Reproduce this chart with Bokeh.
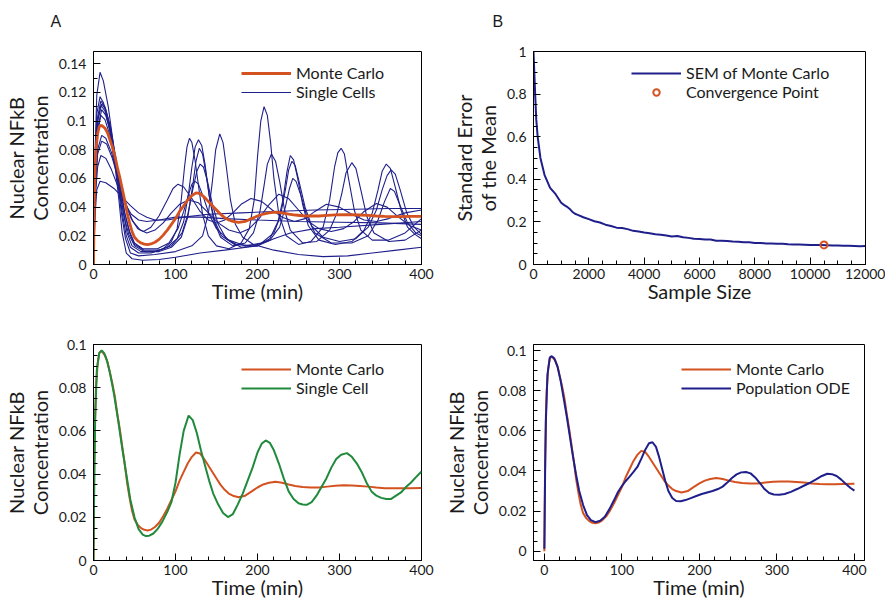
from bokeh.plotting import figure
from bokeh.layouts import column, row
from bokeh.models import FixedTicker, Legend, LegendItem, Range1d
from bokeh.embed import file_html
from bokeh.resources import INLINE
import numpy as np

# ---------------- data ----------------
# Monte Carlo mean (shared by panels A, C, D)
T_MC = [0, 1, 2, 3, 5, 7, 9, 11, 14, 17, 20, 23, 26, 29, 32, 35, 38, 41, 44, 47, 50, 54, 58, 62, 66, 70,
        75, 80, 85, 90, 95, 100, 105, 110, 115, 120, 125, 130, 135, 140, 145, 150, 155, 160, 165, 170,
        177, 185, 192, 200, 207, 214, 222, 230, 238, 246, 255, 265, 275, 285, 295, 305, 315, 325, 335,
        345, 355, 365, 375, 385, 400]
V_MC = [0.0, 0.045, 0.068, 0.080, 0.091, 0.096, 0.097, 0.0965, 0.095, 0.092, 0.087, 0.082, 0.076, 0.068,
        0.061, 0.053, 0.045, 0.036, 0.029, 0.023, 0.019, 0.0165, 0.015, 0.0142, 0.0139, 0.0143,
        0.0155, 0.0175, 0.0205, 0.024, 0.028, 0.032, 0.037, 0.041, 0.045, 0.048, 0.050, 0.0495, 0.047,
        0.044, 0.041, 0.038, 0.035, 0.0327, 0.031, 0.030, 0.0293, 0.030, 0.0318, 0.0338, 0.0352, 0.036,
        0.0365, 0.036, 0.0352, 0.0345, 0.034, 0.0338, 0.0338, 0.0342, 0.0346, 0.0348, 0.0347, 0.0345,
        0.0342, 0.0338, 0.0335, 0.0334, 0.0334, 0.0335, 0.0336]

# Single cells (panel A): each a list of (time, value)
CELL_1 = [(0, 0), (2, 0.07), (4, 0.105), (8, 0.117), (12, 0.113), (18, 0.100), (25, 0.078), (30, 0.058),
          (35, 0.036), (40, 0.020), (45, 0.012), (55, 0.008), (70, 0.008), (85, 0.011), (95, 0.016),
          (102, 0.025), (107, 0.045), (111, 0.068), (114, 0.082), (117, 0.088), (120, 0.085), (124, 0.072),
          (128, 0.055), (133, 0.035), (140, 0.020), (150, 0.013), (165, 0.011), (180, 0.015), (190, 0.025),
          (196, 0.045), (200, 0.075), (204, 0.100), (208, 0.110), (212, 0.104), (216, 0.085), (220, 0.060),
          (226, 0.035), (235, 0.020), (250, 0.014), (265, 0.016), (280, 0.026), (288, 0.045), (294, 0.068),
          (298, 0.078), (302, 0.081), (306, 0.077), (311, 0.060), (318, 0.038), (326, 0.024), (340, 0.017),
          (360, 0.017), (380, 0.022), (400, 0.032)]
CELL_2 = [(0, 0), (2, 0.065), (4, 0.10), (9, 0.114), (14, 0.110), (20, 0.097), (26, 0.077), (31, 0.057),
          (36, 0.038), (41, 0.022), (47, 0.013), (58, 0.009), (75, 0.009), (90, 0.012), (102, 0.018),
          (110, 0.030), (116, 0.050), (120, 0.068), (124, 0.082), (128, 0.087), (132, 0.083), (136, 0.070),
          (141, 0.048), (147, 0.030), (155, 0.019), (170, 0.013), (185, 0.015), (195, 0.022), (203, 0.037),
          (208, 0.055), (212, 0.070), (217, 0.077), (222, 0.072), (227, 0.058), (233, 0.038), (240, 0.024),
          (255, 0.015), (272, 0.016), (288, 0.024), (297, 0.036), (303, 0.050), (308, 0.064), (315, 0.071),
          (320, 0.067), (326, 0.052), (333, 0.034), (342, 0.022), (360, 0.016), (380, 0.017), (400, 0.024)]
CELL_3 = [(0, 0), (2, 0.06), (5, 0.10), (10, 0.112), (15, 0.108), (21, 0.095), (27, 0.075), (33, 0.054),
          (38, 0.036), (44, 0.022), (50, 0.014), (62, 0.010), (80, 0.010), (95, 0.013), (108, 0.022),
          (115, 0.035), (121, 0.052), (126, 0.065), (130, 0.070), (134, 0.068), (139, 0.058), (145, 0.042),
          (152, 0.028), (162, 0.018), (180, 0.012), (200, 0.013), (215, 0.018), (225, 0.030), (231, 0.045),
          (236, 0.065), (240, 0.076), (244, 0.073), (249, 0.060), (255, 0.042), (262, 0.027), (275, 0.017),
          (295, 0.014), (315, 0.016), (330, 0.024), (340, 0.036), (347, 0.052), (352, 0.065), (357, 0.070),
          (362, 0.067), (368, 0.054), (375, 0.038), (383, 0.026), (392, 0.021), (400, 0.018)]
CELL_4 = [(0, 0), (2, 0.06), (5, 0.095), (10, 0.108), (15, 0.104), (21, 0.092), (27, 0.073), (33, 0.053),
          (38, 0.036), (44, 0.023), (50, 0.015), (60, 0.011), (78, 0.011), (92, 0.015), (103, 0.025),
          (110, 0.037), (116, 0.049), (120, 0.056), (124, 0.058), (128, 0.056), (134, 0.047), (141, 0.035),
          (150, 0.025), (165, 0.017), (185, 0.013), (205, 0.015), (220, 0.022), (228, 0.034), (234, 0.052),
          (238, 0.066), (242, 0.072), (246, 0.069), (251, 0.057), (258, 0.040), (266, 0.027), (280, 0.019),
          (300, 0.016), (320, 0.018), (335, 0.026), (345, 0.038), (352, 0.052), (358, 0.062), (363, 0.066),
          (368, 0.063), (374, 0.052), (382, 0.036), (391, 0.026), (400, 0.021)]
CELL_5 = [(0, 0), (2, 0.08), (4, 0.118), (8, 0.134), (12, 0.128), (18, 0.110), (24, 0.085), (29, 0.060),
          (34, 0.036), (39, 0.018), (45, 0.008), (55, 0.006), (75, 0.007), (100, 0.009), (120, 0.013),
          (133, 0.020), (140, 0.035), (145, 0.058), (149, 0.080), (154, 0.091), (158, 0.085), (162, 0.068),
          (167, 0.045), (173, 0.028), (182, 0.019), (195, 0.014), (220, 0.010), (250, 0.007), (280, 0.0055),
          (310, 0.006), (340, 0.008), (370, 0.010), (400, 0.012)]
CELL_6 = [(0, 0), (2, 0.05), (5, 0.08), (10, 0.090), (15, 0.088), (22, 0.078), (30, 0.061), (38, 0.045),
          (46, 0.032), (54, 0.025), (61, 0.023), (70, 0.026), (80, 0.034), (90, 0.045), (97, 0.053),
          (103, 0.056), (110, 0.054), (120, 0.046), (130, 0.037), (140, 0.031), (150, 0.029), (160, 0.031),
          (170, 0.036), (180, 0.042), (192, 0.046), (205, 0.044), (218, 0.038), (230, 0.033), (245, 0.030),
          (258, 0.032), (270, 0.037), (284, 0.042), (300, 0.040), (315, 0.035), (330, 0.031), (345, 0.030),
          (360, 0.032), (380, 0.036), (400, 0.038)]
CELL_7 = [(0, 0), (2, 0.05), (5, 0.077), (10, 0.086), (16, 0.084), (23, 0.074), (31, 0.058), (40, 0.041),
          (48, 0.030), (57, 0.024), (65, 0.022), (75, 0.024), (85, 0.029), (95, 0.036), (105, 0.042),
          (116, 0.045), (128, 0.043), (140, 0.036), (152, 0.029), (165, 0.024), (178, 0.022), (190, 0.025),
          (202, 0.032), (213, 0.041), (226, 0.049), (238, 0.046), (250, 0.038), (262, 0.030), (275, 0.025),
          (290, 0.023), (305, 0.025), (318, 0.030), (330, 0.037), (345, 0.0425), (358, 0.040), (372, 0.033),
          (386, 0.027), (400, 0.024)]
CELL_8 = [(0, 0), (2, 0.035), (4, 0.052), (8, 0.058), (15, 0.057), (25, 0.053), (35, 0.047), (45, 0.041),
          (55, 0.036), (65, 0.033), (75, 0.031), (90, 0.031), (110, 0.033), (140, 0.035), (180, 0.036),
          (220, 0.037), (270, 0.038), (320, 0.0385), (360, 0.039), (400, 0.039)]
CELL_9 = [(0, 0), (2, 0.045), (5, 0.068), (9, 0.076), (15, 0.074), (22, 0.066), (30, 0.054), (38, 0.043),
          (46, 0.035), (55, 0.031), (65, 0.030), (80, 0.031), (100, 0.033), (130, 0.033), (160, 0.032),
          (200, 0.031), (250, 0.030), (300, 0.0295), (350, 0.029), (400, 0.028)]
CELL_10 = [(0, 0), (2, 0.065), (5, 0.100), (9, 0.111), (14, 0.107), (20, 0.093), (26, 0.070), (31, 0.045),
           (35, 0.022), (40, 0.008), (47, 0.004), (60, 0.003), (80, 0.0035), (100, 0.005), (130, 0.008),
           (160, 0.010), (200, 0.013), (220, 0.018), (240, 0.022), (270, 0.025), (300, 0.026), (350, 0.028),
           (400, 0.030)]
CELL_11 = [(0, 0), (2, 0.06), (5, 0.092), (9, 0.104), (14, 0.101), (20, 0.090), (26, 0.071), (32, 0.051),
           (37, 0.034), (43, 0.021), (50, 0.013), (62, 0.009), (80, 0.009), (95, 0.012), (107, 0.019),
           (115, 0.033), (121, 0.055), (125, 0.072), (129, 0.081), (133, 0.077), (137, 0.064), (142, 0.045),
           (148, 0.030), (156, 0.020), (172, 0.014), (195, 0.013), (215, 0.017), (227, 0.026), (234, 0.040),
           (239, 0.053), (243, 0.060), (247, 0.058), (253, 0.048), (260, 0.034), (270, 0.022), (290, 0.015),
           (315, 0.015), (335, 0.020), (347, 0.031), (355, 0.044), (362, 0.053), (367, 0.051), (374, 0.041),
           (383, 0.029), (393, 0.022), (400, 0.020)]
CELLS = [CELL_1, CELL_2, CELL_3, CELL_4, CELL_5, CELL_6, CELL_7, CELL_8, CELL_9, CELL_10, CELL_11]

# Standard error of the mean vs sample size (panel B)
N_SEM = [0, 30, 60, 100, 150, 250, 400, 600, 800, 1000, 1100, 1200, 1300, 1400, 1500, 1600, 1800, 2000,
         2200, 2400, 2600, 2800, 3000, 3200, 3400, 3600, 3800, 4000, 4200, 4400, 4600, 4800, 5000, 5200,
         5400, 5600, 5800, 6000, 6200, 6400, 6600, 6800, 7000, 7200, 7400, 7600, 7800, 8000, 8200, 8400,
         8600, 8800, 9000, 9200, 9400, 9600, 9800, 10000, 10200, 10400, 10600, 10800, 11000, 11200, 11400,
         11600, 11800, 12000]
V_SEM = [1.0, 0.90, 0.80, 0.68, 0.60, 0.50, 0.42, 0.36, 0.33, 0.29, 0.280, 0.272, 0.262, 0.248, 0.238,
         0.233, 0.222, 0.213, 0.203, 0.197, 0.187, 0.181, 0.173, 0.171, 0.166, 0.158, 0.155, 0.150, 0.147,
         0.142, 0.140, 0.136, 0.131, 0.134, 0.128, 0.125, 0.121, 0.120, 0.117, 0.117, 0.112, 0.112, 0.110,
         0.108, 0.107, 0.104, 0.104, 0.101, 0.101, 0.099, 0.099, 0.097, 0.097, 0.095, 0.094, 0.094, 0.093,
         0.092, 0.091, 0.091, 0.090, 0.089, 0.089, 0.088, 0.088, 0.087, 0.086, 0.087]
CONV_N = [10500]
CONV_V = [0.092]

# Single cell vs Monte Carlo (panel C)
T_SC = [0, 1, 2, 4, 7, 10, 13, 16, 20, 25, 30, 35, 40, 45, 50, 55, 60, 64, 68, 73, 78, 84, 90, 95, 100,
        105, 110, 116, 121, 126, 131, 136, 141, 146, 152, 158, 164, 170, 176, 182, 188, 194, 200, 205, 210,
        215, 220, 226, 232, 238, 244, 250, 255, 260, 266, 272, 278, 284, 290, 296, 302, 309, 315, 321, 327,
        333, 339, 345, 351, 357, 363, 369, 375, 381, 387, 393, 400]
V_SC = [0.0, 0.040, 0.065, 0.088, 0.096, 0.0972, 0.096, 0.093, 0.087, 0.077, 0.065, 0.052, 0.040, 0.028,
        0.020, 0.0145, 0.012, 0.0113, 0.0115, 0.0125, 0.0145, 0.018, 0.0225, 0.027, 0.036, 0.049, 0.060,
        0.0671, 0.065, 0.059, 0.051, 0.044, 0.037, 0.031, 0.026, 0.022, 0.0201, 0.0215, 0.026, 0.031,
        0.037, 0.043, 0.050, 0.054, 0.0556, 0.0545, 0.051, 0.045, 0.038, 0.032, 0.0285, 0.0265, 0.0259,
        0.0258, 0.027, 0.030, 0.034, 0.038, 0.043, 0.047, 0.049, 0.0497, 0.048, 0.045, 0.041, 0.036,
        0.032, 0.030, 0.029, 0.0285, 0.0285, 0.030, 0.0315, 0.034, 0.036, 0.0385, 0.0412]

# Population ODE (panel D)
T_ODE = [0, 1, 2, 4, 7, 9.5, 13, 17, 21, 25, 29, 33, 37, 41, 45, 50, 55, 60, 66, 72, 78, 84, 90, 95, 100,
         105, 110, 115, 120, 125, 130, 135, 139.5, 144, 148, 152, 156, 160, 165, 170, 176, 182, 189, 196,
         203, 210, 217, 224, 230, 236, 242, 248, 254, 260, 266, 272, 278, 284, 290, 296, 303, 310, 318, 326,
         334, 342, 350, 358, 365, 371, 377, 383, 389, 395, 400]
V_ODE = [0.0012, 0.040, 0.065, 0.088, 0.0965, 0.0972, 0.096, 0.092, 0.085, 0.076, 0.067, 0.057, 0.047,
         0.038, 0.030, 0.023, 0.018, 0.0155, 0.0145, 0.0152, 0.0172, 0.021, 0.0255, 0.0295, 0.0325, 0.035,
         0.0372, 0.0395, 0.042, 0.046, 0.0505, 0.0538, 0.0543, 0.052, 0.047, 0.041, 0.035, 0.030, 0.0265,
         0.025, 0.0249, 0.0255, 0.0265, 0.0275, 0.0285, 0.0293, 0.0300, 0.031, 0.0322, 0.0342, 0.0365,
         0.0383, 0.0393, 0.0395, 0.0388, 0.0368, 0.034, 0.031, 0.029, 0.0283, 0.0281, 0.0285, 0.0296,
         0.031, 0.0325, 0.034, 0.0357, 0.0375, 0.0386, 0.0384, 0.0375, 0.0357, 0.0335, 0.0315, 0.0302]

# tick labels
TIME_TICKS = [0, 100, 200, 300, 400]
TIME_LABELS = ["0", "100", "200", "300", "400"]
A_Y_TICKS = [0, 0.02, 0.04, 0.06, 0.08, 0.1, 0.12, 0.14]
A_Y_LABELS = ["0", "0.02", "0.04", "0.06", "0.08", "0.1", "0.12", "0.14"]
CD_Y_TICKS = [0, 0.02, 0.04, 0.06, 0.08, 0.1]
CD_Y_LABELS = ["0", "0.02", "0.04", "0.06", "0.08", "0.1"]
B_X_TICKS = [0, 2000, 4000, 6000, 8000, 10000, 12000]
B_X_LABELS = ["0", "2000", "4000", "6000", "8000", "10000", "12000"]
B_Y_TICKS = [0, 0.2, 0.4, 0.6, 0.8, 1.0]
B_Y_LABELS = ["0", "0.2", "0.4", "0.6", "0.8", "1"]

# ---------------- style ----------------
FONT = "Lato"
ORANGE = "#d4521f"
NAVY = "#1f1f8c"
GREEN = "#208a3c"
TXT = "#1a1a1a"


def make_fig(w, h, xr, yr, bl, br, bt, bb, title="", title_offset=0):
    p = figure(width=w, height=h, x_range=Range1d(*xr), y_range=Range1d(*yr),
               min_border_left=bl, min_border_right=br, min_border_top=bt, min_border_bottom=bb,
               output_backend="svg", toolbar_location=None, title=title)
    p.grid.visible = False
    p.outline_line_color = "black"
    p.outline_line_width = 1
    p.background_fill_color = "white"
    p.border_fill_color = "white"
    p.title.text_font = "Liberation Sans"
    p.title.text_font_size = "16px"
    p.title.text_font_style = "normal"
    p.title.text_color = TXT
    p.title.offset = title_offset
    p.title.standoff = 44
    return p


def style_axis(ax, ticks, labels, minor, label, lab_standoff, ax_standoff):
    ax.ticker = FixedTicker(ticks=ticks, minor_ticks=minor)
    ax.major_label_overrides = {t: l for t, l in zip(ticks, labels)}
    ax.axis_label = label
    ax.axis_label_text_font = FONT
    ax.axis_label_text_font_size = "20px"
    ax.axis_label_text_font_style = "normal"
    ax.axis_label_text_color = TXT
    ax.axis_label_text_line_height = 1.0
    ax.major_label_text_font = FONT
    ax.major_label_text_font_size = "14px"
    ax.major_label_text_color = TXT
    ax.major_tick_in = 7
    ax.major_tick_out = 0
    ax.minor_tick_in = 4
    ax.minor_tick_out = 0
    ax.axis_line_color = "black"
    ax.major_tick_line_color = "black"
    ax.minor_tick_line_color = "black"
    ax.major_label_standoff = lab_standoff
    ax.axis_label_standoff = ax_standoff


def style_x(ax, ticks, labels, minor, label):
    style_axis(ax, ticks, labels, minor, label, 4, -3)


def style_y(ax, ticks, labels, minor, label):
    style_axis(ax, ticks, labels, minor, label, 7, 4)


def add_legend(p, items, loc):
    leg = Legend(items=items, location=loc, border_line_color=None, background_fill_alpha=0,
                 label_text_font=FONT, label_text_font_size="16px", label_text_color=TXT,
                 glyph_width=50, glyph_height=16, label_height=16, spacing=0, padding=0, margin=0,
                 label_standoff=5)
    p.add_layout(leg)


time_minor = list(np.arange(0, 401, 20))
NFKB = "Nuclear NFkB\nConcentration"

# Panel A (taller figure; the row is pulled up by a negative top margin)
pA = make_fig(440, 324, (0, 400), (0, 0.1485), 89, 19, 62, 48, "A", -43)
cell_rs = []
for cell in CELLS:
    ts = [c[0] for c in cell]
    vs = [c[1] for c in cell]
    cell_rs.append(pA.line(ts, vs, line_color=NAVY, line_width=1.1))
rA = pA.line(T_MC, V_MC, line_color=ORANGE, line_width=2.8)
style_x(pA.xaxis[0], TIME_TICKS, TIME_LABELS, time_minor, "Time (min)")
style_y(pA.yaxis[0], A_Y_TICKS, A_Y_LABELS, list(np.arange(0, 0.15, 0.01)), NFKB)
add_legend(pA, [LegendItem(label="Monte Carlo", renderers=[rA]),
                LegendItem(label="Single Cells", renderers=[cell_rs[0]])], (148, 163))

# Panel B
pB = make_fig(445, 324, (0, 12000), (0, 1), 93, 20, 62, 48, "B", -41)
rB = pB.line(N_SEM, V_SEM, line_color=NAVY, line_width=2)
rBc = pB.scatter(CONV_N, CONV_V, marker="circle", size=7, fill_color="white", fill_alpha=0.0,
                 line_color=ORANGE, line_width=2)
style_x(pB.xaxis[0], B_X_TICKS, B_X_LABELS, list(np.arange(0, 12001, 500)), "Sample Size")
style_y(pB.yaxis[0], B_Y_TICKS, B_Y_LABELS, list(np.arange(0, 1.001, 0.05)),
        "Standard Error\nof the Mean")
add_legend(pB, [LegendItem(label="SEM of Monte Carlo", renderers=[rB]),
                LegendItem(label="Convergence Point", renderers=[rBc])], (98, 163))

# Panel C
pC = make_fig(440, 292, (0, 400), (0, 0.1), 89, 19, 32, 44)
rC1 = pC.line(T_MC, V_MC, line_color=ORANGE, line_width=2)
rC2 = pC.line(T_SC, V_SC, line_color=GREEN, line_width=2)
style_x(pC.xaxis[0], TIME_TICKS, TIME_LABELS, time_minor, "Time (min)")
style_y(pC.yaxis[0], CD_Y_TICKS, CD_Y_LABELS, list(np.arange(0, 0.1001, 0.005)), NFKB)
add_legend(pC, [LegendItem(label="Monte Carlo", renderers=[rC1]),
                LegendItem(label="Single Cell", renderers=[rC2])], (148, 163))

# Panel D
pD = make_fig(445, 292, (-14, 413), (-0.0046, 0.103), 92, 21, 32, 44)
rD1 = pD.line(T_MC, V_MC, line_color=ORANGE, line_width=2)
rD2 = pD.line(T_ODE, V_ODE, line_color=NAVY, line_width=2)
style_x(pD.xaxis[0], TIME_TICKS, TIME_LABELS, time_minor, "Time (min)")
style_y(pD.yaxis[0], CD_Y_TICKS, CD_Y_LABELS, list(np.arange(0, 0.1001, 0.005)), NFKB)
add_legend(pD, [LegendItem(label="Monte Carlo", renderers=[rD1]),
                LegendItem(label="Population ODE", renderers=[rD2])], (148, 163))

layout = column(row(pA, pB, margin=(-12, 0, 0, 0)), row(pC, pD))
open("out.html", "w").write(file_html(layout, INLINE))
